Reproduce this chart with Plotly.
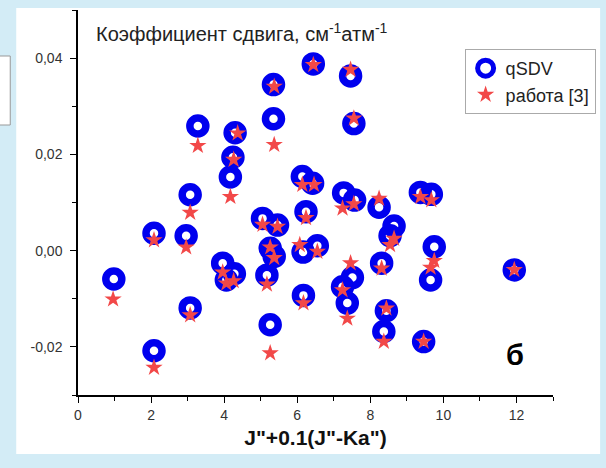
import plotly.graph_objects as go

# qSDV (open blue circles)
qsdv_x = [0.98, 2.08, 2.08, 2.96, 3.07, 3.07, 3.28, 3.96, 4.06, 4.17, 4.24, 4.28, 4.30,
          5.05, 5.17, 5.26, 5.26, 5.35, 5.35, 5.37, 5.46, 6.14, 6.24, 6.16, 6.17, 6.42,
          6.44, 6.55, 7.27, 7.24, 7.37, 7.46, 7.51, 7.55, 7.57, 8.24, 8.31, 8.44, 8.37,
          8.54, 8.65, 9.37, 9.46, 9.67, 9.65, 9.75, 11.94]
qsdv_y = [-0.0059, 0.0036, -0.0208, 0.0031, 0.0116, -0.0119, 0.0259, -0.0026, -0.0061,
          0.0153, 0.0194, -0.0048, 0.0245, 0.0067, -0.0051, 0.0005, -0.0154, 0.0345,
          0.0274, -0.0012, 0.0053, 0.0154, 0.0081, -0.0003, -0.0093, 0.0140, 0.0388,
          0.0010, 0.0120, -0.0075, -0.0109, 0.0363, -0.0056, 0.0264, 0.0105, 0.0090,
          -0.0026, -0.0125, -0.0168, 0.0031, 0.0051, 0.0121, -0.0189, 0.0117, -0.0061,
          0.0008, -0.0040]

# работа [3] (red stars)
ref_x = [0.96, 2.08, 2.08, 2.96, 3.07, 3.07, 3.28, 3.96, 4.06, 4.17, 4.26, 4.26, 4.37,
         5.05, 5.17, 5.26, 5.26, 5.37, 5.37, 5.37, 5.46, 6.14, 6.24, 6.07, 6.17, 6.46,
         6.44, 6.55, 7.24, 7.24, 7.37, 7.46, 7.46, 7.55, 7.55, 8.24, 8.31, 8.44, 8.37,
         8.54, 8.65, 9.37, 9.46, 9.67, 9.65, 9.75, 11.94]
ref_y = [-0.0101, 0.0022, -0.0243, 0.0007, 0.0079, -0.0134, 0.0218, -0.0045, -0.0068,
         0.0112, 0.0189, -0.0063, 0.0244, 0.0054, -0.0070, 0.0007, -0.0213, 0.0341,
         0.0220, -0.0015, 0.0050, 0.0137, 0.0068, 0.0012, -0.0109, 0.0137, 0.0386,
         -0.0002, 0.0088, -0.0082, -0.0141, 0.0376, -0.0026, 0.0275, 0.0097, 0.0108,
         -0.0037, -0.0120, -0.0189, 0.0012, 0.0025, 0.0112, -0.0189, 0.0105, -0.0035,
         -0.0021, -0.0040]

y_tickvals = [-0.02, 0.0, 0.02, 0.04]
y_ticktext = ["-0,02", "0,00", "0,02", "0,04"]
x_tickvals = [0, 2, 4, 6, 8, 10, 12]
x_ticktext = ["0", "2", "4", "6", "8", "10", "12"]

FONT = "Liberation Sans, Arial, sans-serif"

fig = go.Figure()
fig.add_trace(go.Scatter(
    x=qsdv_x, y=qsdv_y, mode="markers", name="qSDV", legendgroup="a",
    marker=dict(symbol="circle-open", size=16, color="#0000ee",
                line=dict(width=7.5, color="#0000ee")),
))
fig.add_trace(go.Scatter(
    x=ref_x, y=ref_y, mode="markers", name="работа [3]", legendgroup="b",
    marker=dict(symbol="star", size=13, color="#f24848", line=dict(width=0)),
))

axis_common = dict(showline=True, linecolor="black", linewidth=1.5, showgrid=False,
                   zeroline=False, ticks="outside", ticklen=6, tickwidth=1.3,
                   tickcolor="black", tickfont=dict(family=FONT, size=14, color="#333"))

fig.update_xaxes(range=[0, 13], tickvals=x_tickvals, ticktext=x_ticktext,
                 minor=dict(tickmode="linear", tick0=0, dtick=1, ticks="outside",
                            ticklen=4, tickwidth=1.2, tickcolor="black"),
                 title=dict(text="<b>J\"+0.1(J\"-Ka\")</b>",
                            font=dict(family=FONT, size=21, color="#111"), standoff=9),
                 **axis_common)
fig.update_yaxes(range=[-0.03, 0.05], tickvals=y_tickvals, ticktext=y_ticktext,
                 minor=dict(tickmode="linear", tick0=0, dtick=0.01, ticks="outside",
                            ticklen=4, tickwidth=1.2, tickcolor="black"),
                 ticklabelstandoff=5,
                 **axis_common)

fig.add_annotation(xref="paper", yref="paper", x=(94 - 78) / 476.7, y=(395 - 32) / 385,
                   xanchor="left", yanchor="middle", showarrow=False,
                   text="Коэффициент сдвига, см<sup>-1</sup>атм<sup>-1</sup>",
                   font=dict(family=FONT, size=20, color="#222"))
fig.add_annotation(xref="paper", yref="paper", x=(517 - 78) / 476.7, y=(395 - 355) / 385,
                   xanchor="center", yanchor="middle", showarrow=False,
                   text="<b>б</b>", font=dict(family=FONT, size=29, color="black"))

# background card
fig.add_shape(type="rect", xref="paper", yref="paper", layer="below",
              x0=(16 - 78) / 476.7, x1=(602 - 78) / 476.7,
              y0=(395 - 454) / 385, y1=(395 - 8) / 385,
              fillcolor="white", line=dict(width=0))
fig.add_shape(type="rect", xref="paper", yref="paper", layer="below",
              x0=(-10 - 78) / 476.7, x1=(10 - 78) / 476.7,
              y0=(395 - 125) / 385, y1=(395 - 56) / 385,
              fillcolor="white", line=dict(width=1, color="#999"))

fig.update_layout(
    width=606, height=468,
    margin=dict(l=78, r=51, t=10, b=73),
    paper_bgcolor="#d3ecf6", plot_bgcolor="white",
    font=dict(family=FONT),
    showlegend=True,
    legend=dict(x=(466 - 78) / 476.7, y=(395 - 49) / 385, xanchor="left", yanchor="top",
                bgcolor="white", bordercolor="#aaa", borderwidth=1,
                font=dict(family=FONT, size=18, color="#222"),
                traceorder="grouped", tracegroupgap=0),
)

fig.write_html("out.html")
